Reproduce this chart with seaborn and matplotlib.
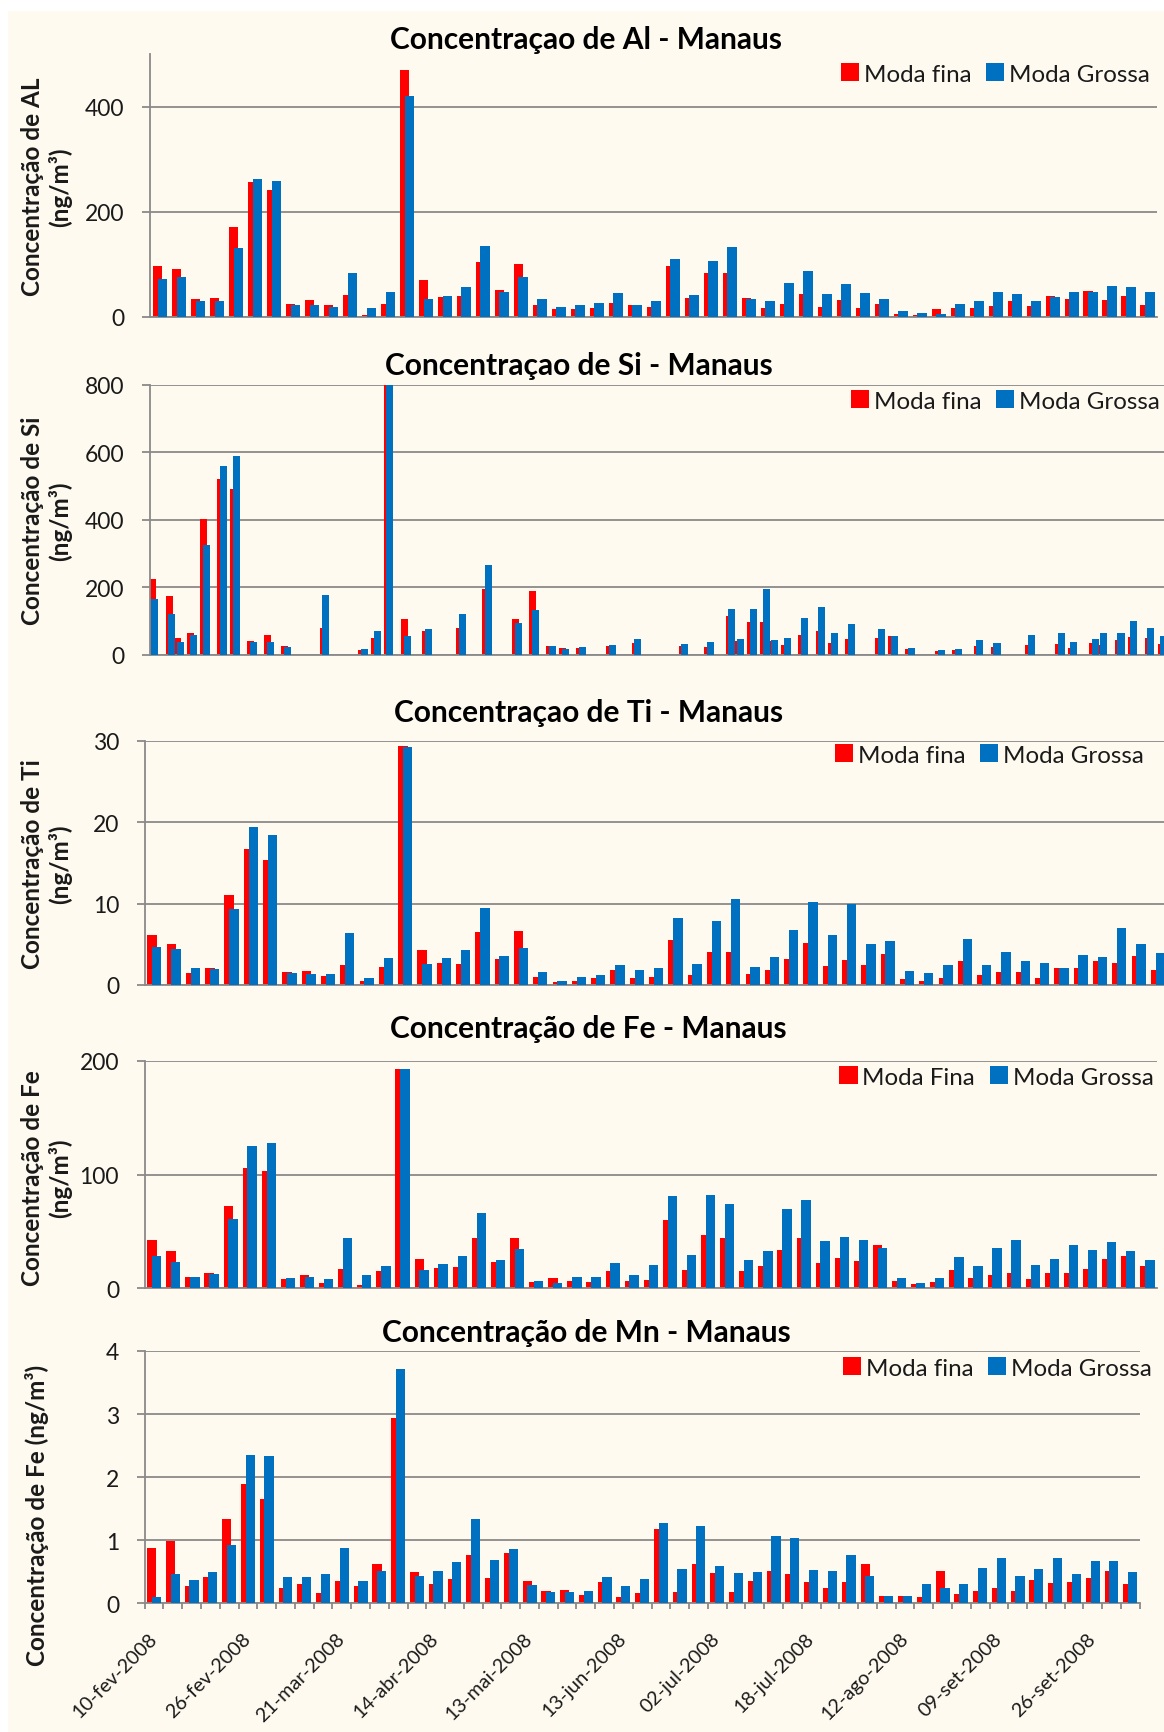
import numpy as np
import pandas as pd
import matplotlib
matplotlib.use("Agg")
import matplotlib.pyplot as plt
import seaborn as sns
from matplotlib.patches import Patch, Rectangle

# ---------------- data ----------------
dates = ["2008-02-10", "2008-02-14", "2008-02-16", "2008-02-19", "2008-02-22",
         "2008-02-26", "2008-02-29", "2008-03-04", "2008-03-08", "2008-03-12",
         "2008-03-21", "2008-03-30", "2008-04-02", "2008-04-05", "2008-04-09",
         "2008-04-14", "2008-04-22", "2008-04-28", "2008-05-05", "2008-05-09",
         "2008-05-13", "2008-05-16", "2008-05-20", "2008-05-27", "2008-06-02",
         "2008-06-13", "2008-06-19", "2008-06-24", "2008-06-26", "2008-06-29",
         "2008-07-02", "2008-07-04", "2008-07-07", "2008-07-11", "2008-07-15",
         "2008-07-18", "2008-07-22", "2008-07-29", "2008-08-01", "2008-08-05",
         "2008-08-12", "2008-08-16", "2008-08-21", "2008-08-25", "2008-09-02",
         "2008-09-09", "2008-09-12", "2008-09-17", "2008-09-19", "2008-09-23",
         "2008-09-26", "2008-09-30", "2008-10-03"]

al_fina = [97, 91, 34, 36, 170, 257, 241, 25, 32, 22,
           41, 4, 25, 470, 70, 38, 39, 104, 50, 100,
           22, 15, 15, 17, 27, 22, 18, 97, 36, 83,
           83, 35, 17, 25, 43, 19, 31, 16, 24, 6,
           4, 15, 17, 17, 21, 30, 21, 39, 34, 49,
           32, 39, 22]
al_grossa = [72, 76, 29, 29, 131, 263, 258, 22, 22, 19,
             83, 17, 48, 420, 34, 39, 57, 135, 48, 75,
             33, 18, 23, 27, 46, 23, 30, 110, 41, 107,
             132, 34, 30, 65, 88, 44, 63, 45, 33, 10,
             7, 5, 24, 29, 48, 44, 30, 37, 48, 48,
             58, 56, 47]

si_fina = [225, 175, 50, 65, 403, 520, 490, 40, 57, 25,
           78, 15, 50, 900, 107, 70, 80, 195, 105, 188,
           25, 20, 20, 25, 34, 26, 24, 115, 42, 98,
           98, 42, 30, 58, 71, 34, 47, 49, 55, 17,
           12, 15, 25, 22, 29, 31, 21, 34, 29, 44,
           52, 50, 32]
si_grossa = [165, 120, 37, 57, 325, 560, 588, 37, 37, 23,
             177, 16, 70, 870, 55, 75, 120, 265, 95, 133,
             27, 17, 24, 30, 48, 32, 37, 135, 48, 134,
             194, 44, 50, 109, 141, 64, 91, 76, 55, 20,
             14, 16, 44, 35, 59, 64, 37, 46, 63, 64,
             99, 78, 55]

ti_fina = [6.1, 5.1, 1.5, 2.1, 11.1, 16.7, 15.4, 1.6, 1.7, 1.15,
           2.5, 0.45, 2.2, 29.4, 4.3, 2.7, 2.6, 6.5, 3.2, 6.6,
           1.0, 0.4, 0.45, 0.8, 1.9, 0.9, 0.95, 5.5, 1.25, 4.0,
           4.0, 1.3, 1.8, 3.2, 5.2, 2.3, 3.1, 2.5, 3.8, 0.75,
           0.55, 0.9, 2.95, 1.2, 1.55, 1.55, 0.9, 2.1, 2.05, 2.9,
           2.7, 3.6, 1.8]
ti_grossa = [4.7, 4.4, 2.1, 2.0, 9.3, 19.4, 18.4, 1.5, 1.35, 1.3,
             6.35, 0.8, 3.3, 29.3, 2.6, 3.3, 4.3, 9.5, 3.6, 4.6,
             1.6, 0.55, 0.95, 1.2, 2.4, 1.8, 2.1, 8.2, 2.6, 7.9,
             10.6, 2.2, 3.5, 6.8, 10.2, 6.2, 10.0, 5.0, 5.4, 1.7,
             1.5, 2.5, 5.6, 2.5, 4.0, 2.9, 2.7, 2.1, 3.7, 3.4,
             7.0, 5.0, 3.9]

fe_fina = [42.8, 33.1, 10.0, 13.5, 72.1, 106.2, 102.9, 7.9, 12.0, 5.0,
           17.0, 2.9, 15.2, 193.3, 25.8, 17.9, 18.8, 44.3, 23.5, 44.0,
           5.6, 8.8, 6.7, 5.6, 15.0, 6.5, 7.3, 60.4, 16.1, 47.2,
           44.0, 15.5, 19.4, 33.4, 44.3, 22.3, 26.4, 24.0, 37.8, 6.5,
           3.5, 5.6, 16.4, 8.8, 11.4, 13.8, 8.5, 13.8, 13.8, 17.3,
           25.8, 28.7, 19.4]
fe_grossa = [28.7, 23.2, 9.7, 12.6, 61.0, 124.9, 127.9, 8.8, 9.7, 7.9,
             44.6, 12.0, 19.9, 193.3, 15.8, 21.4, 28.2, 66.6, 24.6, 34.3,
             6.5, 4.7, 10.0, 10.0, 22.6, 12.0, 20.5, 81.0, 29.0, 81.8,
             73.9, 25.2, 33.1, 69.8, 77.4, 41.3, 45.2, 42.5, 35.8, 9.4,
             4.4, 9.4, 27.6, 19.9, 35.5, 42.2, 20.2, 25.8, 37.8, 33.4,
             40.5, 32.6, 24.6]

mn_fina = [0.88, 0.99, 0.28, 0.41, 1.33, 1.89, 1.65, 0.24, 0.30, 0.16,
           0.35, 0.27, 0.63, 2.94, 0.49, 0.31, 0.38, 0.76, 0.40, 0.79,
           0.35, 0.19, 0.21, 0.13, 0.34, 0.10, 0.16, 1.18, 0.18, 0.63,
           0.48, 0.18, 0.35, 0.52, 0.46, 0.34, 0.25, 0.34, 0.62, 0.12,
           0.11, 0.10, 0.52, 0.14, 0.19, 0.25, 0.20, 0.37, 0.32, 0.34,
           0.40, 0.51, 0.30]
mn_grossa = [0.10, 0.47, 0.37, 0.50, 0.92, 2.35, 2.34, 0.42, 0.42, 0.46,
             0.87, 0.35, 0.52, 3.72, 0.43, 0.51, 0.66, 1.34, 0.68, 0.86,
             0.29, 0.18, 0.18, 0.19, 0.42, 0.28, 0.39, 1.28, 0.54, 1.22,
             0.59, 0.48, 0.49, 1.06, 1.03, 0.53, 0.51, 0.77, 0.43, 0.12,
             0.12, 0.30, 0.25, 0.31, 0.56, 0.72, 0.43, 0.55, 0.72, 0.47,
             0.67, 0.67, 0.50]

meses_pt = ["jan", "fev", "mar", "abr", "mai", "jun",
            "jul", "ago", "set", "out", "nov", "dez"]
label_every = 5

titles = ["Concentraçao de Al - Manaus", "Concentraçao de Si - Manaus",
          "Concentraçao de Ti - Manaus", "Concentração de Fe - Manaus",
          "Concentração de Mn - Manaus"]
ylabels = ["Concentração de AL\n(ng/m³)", "Concentração de Si\n(ng/m³)",
           "Concentração de Ti\n(ng/m³)", "Concentração de Fe\n(ng/m³)",
           "Concentração de Fe (ng/m³)"]
legend_labels = [["Moda fina", "Moda Grossa"], ["Moda fina", "Moda Grossa"],
                 ["Moda fina", "Moda Grossa"], ["Moda Fina", "Moda Grossa"],
                 ["Moda fina", "Moda Grossa"]]

# ---------------- style ----------------
RED = "#FF0000"
BLUE = "#0070C0"
GRID = "#8A8A8A"
CREAM = "#FEFAF0"
TXT = "#1A1A1A"

sns.set_theme(style="white")
plt.rcParams["font.family"] = ["Lato", "DejaVu Sans"]
plt.rcParams["axes.unicode_minus"] = False

W, H = 1164, 1733
fig = plt.figure(figsize=(W / 100, H / 100), dpi=100)
fig.patch.set_facecolor("white")
fig.add_artist(Rectangle((8 / W, 0), 1, 1 - 12 / H, transform=fig.transFigure,
                         facecolor=CREAM, edgecolor="none", zorder=-10))


def px_axes(left, top, right, bottom):
    return fig.add_axes([left / W, 1 - bottom / H, (right - left) / W, (bottom - top) / H])


dt = pd.to_datetime(pd.Series(dates))
days = (dt - dt.iloc[0]).dt.days.to_numpy().astype(float)
idx = np.arange(len(dates), dtype=float)
tick_labels = [f"{d.day:02d}-{meses_pt[d.month - 1]}-{d.year}" for d in dt.iloc[::label_every]]


def draw_bars(ax, xf, xg, fina, grossa, width):
    df = pd.DataFrame({"xf": xf, "xg": xg, "fina": fina, "grossa": grossa})
    native = np.min(np.diff(np.unique(xf)))
    sns.barplot(data=df, x="xf", y="fina", native_scale=True, orient="x", color=RED,
                saturation=1, width=width / native, errorbar=None, linewidth=0,
                edgecolor="none", ax=ax, zorder=2)
    sns.barplot(data=df, x="xg", y="grossa", native_scale=True, orient="x", color=BLUE,
                saturation=1, width=width / native, errorbar=None, linewidth=0,
                edgecolor="none", ax=ax, zorder=3)


def style(ax, xlim, ymax, yticks):
    ax.set_xlim(*xlim)
    ax.set_ylim(0, ymax)
    ax.set_yticks(yticks)
    ax.set_yticklabels([f"{t:g}" for t in yticks])
    ax.set_facecolor("none")
    ax.grid(False)
    ax.yaxis.grid(True, color=GRID, linewidth=1.3)
    ax.set_axisbelow(True)
    for s in ["top", "right"]:
        ax.spines[s].set_visible(False)
    for s in ["left", "bottom"]:
        ax.spines[s].set_color(GRID)
        ax.spines[s].set_linewidth(1.3)
    ax.tick_params(axis="y", direction="out", length=6, width=1.3, color=GRID,
                   pad=12.5, labelsize=16.5, labelcolor=TXT, left=True)
    ax.tick_params(axis="x", which="both", length=0, labelbottom=False)
    ax.set_xlabel("")
    ax.set_ylabel("")


def add_legend(ax, labels, right_px, cy_px):
    handles = [Patch(facecolor=RED, edgecolor="none"), Patch(facecolor=BLUE, edgecolor="none")]
    ax.legend(handles, labels, ncol=2, loc="center right",
              bbox_to_anchor=(right_px / W, 1 - cy_px / H), bbox_transform=fig.transFigure,
              frameon=False, fontsize=17.4, handlelength=0.75, handleheight=0.75,
              handletextpad=0.2, columnspacing=0.6, borderpad=0, borderaxespad=0,
              labelcolor=TXT)


n = len(dates)
cat_xlim = (-0.5, n - 0.5)

# Al
ax_al = px_axes(150.4, 55.2, 1157, 317.7)
draw_bars(ax_al, idx - 0.125, idx + 0.125, al_fina, al_grossa, 0.49)
style(ax_al, cat_xlim, 500, [0, 200, 400])
add_legend(ax_al, legend_labels[0], 1150, 75)

# Si (date axis)
ax_si = px_axes(150.4, 385.7, 1220, 655.7)
draw_bars(ax_si, days - 0.305, days + 0.305, si_fina, si_grossa, 1.66)
style(ax_si, (-0.73, -0.73 + (1220 - 150.4) / 4.275), 800, [0, 200, 400, 600, 800])
add_legend(ax_si, legend_labels[1], 1160, 402)

# Ti
ax_ti = px_axes(144.7, 742, 1167.6, 986)
draw_bars(ax_ti, idx - 0.125, idx + 0.125, ti_fina, ti_grossa, 0.49)
style(ax_ti, cat_xlim, 30, [0, 10, 20, 30])
add_legend(ax_ti, legend_labels[2], 1144, 756)

# Fe
ax_fe = px_axes(144.7, 1062, 1157, 1289.3)
draw_bars(ax_fe, idx - 0.125, idx + 0.125, fe_fina, fe_grossa, 0.49)
style(ax_fe, cat_xlim, 200, [0, 100, 200])
add_legend(ax_fe, legend_labels[3], 1153.5, 1078)

# Mn
ax_mn = px_axes(144.7, 1352, 1139.7, 1604.3)
draw_bars(ax_mn, idx - 0.125, idx + 0.125, mn_fina, mn_grossa, 0.49)
style(ax_mn, cat_xlim, 4, [0, 1, 2, 3, 4])
add_legend(ax_mn, legend_labels[4], 1151.7, 1369)
ax_mn.set_xticks(idx[::label_every])
ax_mn.set_xticklabels(tick_labels, rotation=45, ha="right", va="center",
                      rotation_mode="anchor", fontsize=14.2, color=TXT)
ax_mn.set_xticks(np.arange(-0.5, n, 1.0), minor=True)
ax_mn.tick_params(axis="x", which="major", length=0, pad=23, labelbottom=True)
ax_mn.tick_params(axis="x", which="minor", direction="out", length=4.5, width=1.3,
                  color=GRID, bottom=True)

# titles
title_pos = [(586, 48.5), (578.6, 374.7), (588.6, 722), (588, 1038), (586, 1342)]
for t, (cx, by) in zip(titles, title_pos):
    fig.text(cx / W, 1 - by / H, t, ha="center", va="baseline", fontsize=21.5,
             fontweight="bold", color="black")

# y labels
ylab_pos = [(47, 187), (47, 521), (47, 864), (47, 1178), (37, 1515)]
for t, (cx, cy) in zip(ylabels, ylab_pos):
    fig.text(cx / W, 1 - cy / H, t, ha="center", va="center", rotation=90,
             fontsize=17.5, fontweight="bold", color=TXT, linespacing=1.2,
             multialignment="center")

fig.savefig("out.png", dpi=100, facecolor=fig.get_facecolor())
